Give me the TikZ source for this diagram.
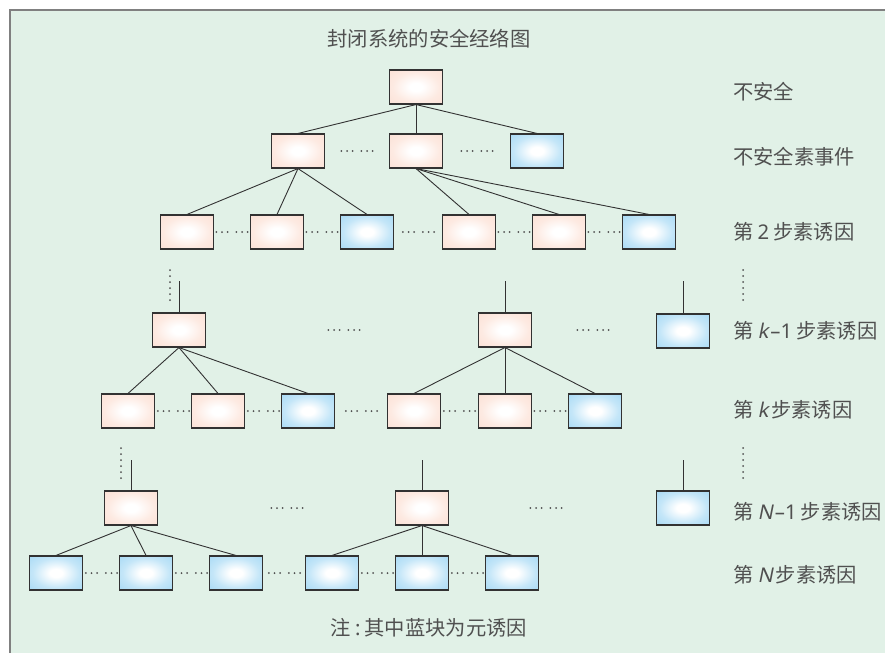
\documentclass[tikz,border=0pt]{standalone}
\usepackage{fontspec}
\usetikzlibrary{shadows}
\newfontfamily\cjk{Noto Sans CJK SC}
\newfontfamily\lat{Noto Sans}
\newfontfamily\latit[FakeSlant=0.2]{Noto Sans}
\definecolor{bgc}{RGB}{225,241,231}
\definecolor{framec}{RGB}{128,128,128}
\definecolor{pinkedge}{RGB}{250,216,202}
\definecolor{pinkmid}{RGB}{253,234,226}
\definecolor{blueedge}{RGB}{140,206,242}
\definecolor{bluemid}{RGB}{196,230,248}
\definecolor{txtc}{RGB}{80,80,80}
\definecolor{linec}{RGB}{50,50,50}
\definecolor{dotc}{RGB}{80,80,80}
\pgfdeclareradialshading{pinkshade}{\pgfpoint{0bp}{0bp}}{color(0bp)=(white); color(6bp)=(white); color(22bp)=(pinkmid); color(50bp)=(pinkedge); color(80bp)=(pinkedge)}
\pgfdeclareradialshading{blueshade}{\pgfpoint{0bp}{0bp}}{color(0bp)=(white); color(6bp)=(white); color(22bp)=(bluemid); color(50bp)=(blueedge); color(80bp)=(blueedge)}
\newcommand\sixdots[2]{\foreach \dd in {-15.7,-10,-4.3,4.3,10,15.7}{\fill[dotc] ({#1+\dd},#2) circle (1pt);}}
\newcommand\vsixdots[2]{\foreach \dd in {0,6,12,18,24,30}{\fill[dotc] (#1,{#2+\dd}) circle (1pt);}}
\tikzset{
  boxbase/.style={rectangle, draw=linec, line width=1.1pt, minimum width=53pt, minimum height=34pt, inner sep=0pt,
    drop shadow={shadow xshift=0.9pt, shadow yshift=-0.9pt, fill=black!45, opacity=1}},
  pinkbox/.style={boxbase, shading=pinkshade},
  bluebox/.style={boxbase, shading=blueshade},
  conn/.style={draw=linec, line width=0.9pt},
  lab/.style={anchor=west, inner sep=0pt, text=txtc, font=\cjk\fontsize{20.3}{23}\selectfont},
  ttl/.style={inner sep=0pt, text=txtc, font=\cjk\fontsize{20.3}{23}\selectfont}
}
\begin{document}
\begin{tikzpicture}[x=1pt,y=-1pt]
\useasboundingbox (0,0) rectangle (885,653);
\fill[white] (0,0) rectangle (885,653);
\fill[bgc] (10,10) rectangle (885,653);
\draw[framec, line width=1.5pt] (10,653) -- (10,10) -- (885,10);

% title and note
\node[ttl] (title) at (429,39) {封闭系统的安全经络图};
\node[ttl] (note) at (429,628) {注\kern4pt{\lat :}\kern4pt其中蓝块为元诱因};

% row 1
\node[pinkbox] (r1) at (416,87) {};
% row 2
\node[pinkbox] (r2a) at (298,151) {};
\node[pinkbox] (r2b) at (416,151) {};
\node[bluebox] (r2c) at (537,151) {};
% row 3
\node[pinkbox] (r3a) at (187,232) {};
\node[pinkbox] (r3b) at (277,232) {};
\node[bluebox] (r3c) at (367,232) {};
\node[pinkbox] (r3d) at (469,232) {};
\node[pinkbox] (r3e) at (559,232) {};
\node[bluebox] (r3f) at (649,232) {};
% row 4
\node[pinkbox] (r4a) at (179,330) {};
\node[pinkbox] (r4b) at (505,330) {};
\node[bluebox] (r4c) at (683,331) {};
% row 5
\node[pinkbox] (r5a) at (128,411) {};
\node[pinkbox] (r5b) at (218,411) {};
\node[bluebox] (r5c) at (308,411) {};
\node[pinkbox] (r5d) at (414,411) {};
\node[pinkbox] (r5e) at (505,411) {};
\node[bluebox] (r5f) at (595,411) {};
% row 6
\node[pinkbox] (r6a) at (131,508) {};
\node[pinkbox] (r6b) at (422,508) {};
\node[bluebox] (r6c) at (683,508) {};
% row 7
\node[bluebox] (r7a) at (56,573) {};
\node[bluebox] (r7b) at (146,573) {};
\node[bluebox] (r7c) at (236,573) {};
\node[bluebox] (r7d) at (332,573) {};
\node[bluebox] (r7e) at (422,573) {};
\node[bluebox] (r7f) at (512,573) {};

% free ends of lines from above
\coordinate (t4a) at (179,281);
\coordinate (t4b) at (505,281);
\coordinate (t4c) at (683,281);
\coordinate (t6a) at (131,460);
\coordinate (t6b) at (422,460);
\coordinate (t6c) at (683,460);

% connectors
\draw[conn] (r1.south) -- (r2a.north);
\draw[conn] (r1.south) -- (r2b.north);
\draw[conn] (r1.south) -- (r2c.north);
\draw[conn] (r2a.south) -- (r3a.north);
\draw[conn] (r2a.south) -- (r3b.north);
\draw[conn] (r2a.south) -- (r3c.north);
\draw[conn] (r2b.south) -- (r3d.north);
\draw[conn] (r2b.south) -- (r3e.north);
\draw[conn] (r2b.south) -- (r3f.north);
\draw[conn] (t4a) -- (r4a.north);
\draw[conn] (t4b) -- (r4b.north);
\draw[conn] (t4c) -- (r4c.north);
\draw[conn] (r4a.south) -- (r5a.north);
\draw[conn] (r4a.south) -- (r5b.north);
\draw[conn] (r4a.south) -- (r5c.north);
\draw[conn] (r4b.south) -- (r5d.north);
\draw[conn] (r4b.south) -- (r5e.north);
\draw[conn] (r4b.south) -- (r5f.north);
\draw[conn] (t6a) -- (r6a.north);
\draw[conn] (t6b) -- (r6b.north);
\draw[conn] (t6c) -- (r6c.north);
\draw[conn] (r6a.south) -- (r7a.north);
\draw[conn] (r6a.south) -- (r7b.north);
\draw[conn] (r6a.south) -- (r7c.north);
\draw[conn] (r6b.south) -- (r7d.north);
\draw[conn] (r6b.south) -- (r7e.north);
\draw[conn] (r6b.south) -- (r7f.north);

% horizontal ellipses
\sixdots{357}{151} \sixdots{477}{151}
\sixdots{232}{232} \sixdots{322}{232} \sixdots{418.5}{232} \sixdots{514}{232} \sixdots{604}{232}
\sixdots{344}{330} \sixdots{593}{330}
\sixdots{173.5}{411} \sixdots{263.5}{411} \sixdots{361.5}{411} \sixdots{459.5}{411} \sixdots{550}{411}
\sixdots{287}{508} \sixdots{546}{508}
\sixdots{101.5}{573} \sixdots{191.5}{573} \sixdots{284.5}{573} \sixdots{377.5}{573} \sixdots{467.5}{573}
% vertical ellipses
\vsixdots{170}{270} \vsixdots{121}{448}
\vsixdots{743}{270} \vsixdots{743}{448}

% labels
\node[lab] (l1) at (733,92) {不安全};
\node[lab] (l2) at (733,157) {不安全素事件};
\node[lab] (l3) at (733,232) {第\hspace{4pt}{\lat 2}\hspace{4pt}步素诱因};
\node[lab] (l4) at (733,331) {第\hspace{4pt}{\latit k}\hspace{2pt}{\lat –1}\hspace{4pt}步素诱因};
\node[lab] (l5) at (733,410) {第\hspace{4pt}{\latit k}\hspace{3pt}步素诱因};
\node[lab] (l6) at (733,512) {第\hspace{4pt}{\latit N}\hspace{2pt}{\lat –1}\hspace{4pt}步素诱因};
\node[lab] (l7) at (733,575) {第\hspace{4pt}{\latit N}\hspace{3pt}步素诱因};
\end{tikzpicture}
\end{document}
